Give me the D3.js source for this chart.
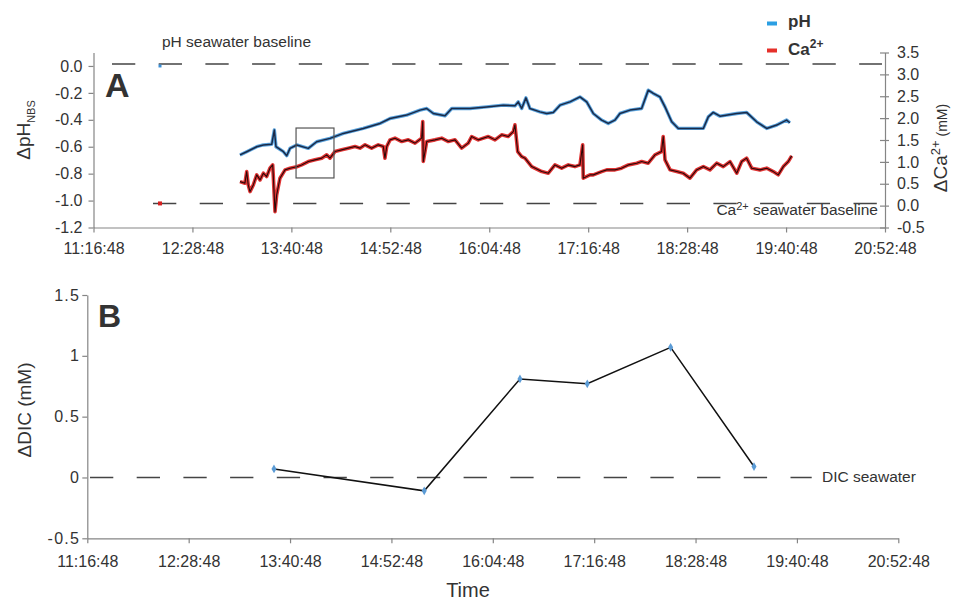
<!DOCTYPE html>
<html><head><meta charset="utf-8">
<script src="https://cdn.jsdelivr.net/npm/d3@7"></script>
<style>
body{margin:0;background:#fff;}
svg text{font-family:"Liberation Sans",Arial,Helvetica,sans-serif;fill:#333;}
</style>
</head><body>
<svg id="c" width="961" height="600"></svg>
<script>
// ---------- DATA ----------
const timeTickLabels = ["11:16:48","12:28:48","13:40:48","14:52:48","16:04:48","17:16:48","18:28:48","19:40:48","20:52:48"];
const phTickLabels = [0.0,-0.2,-0.4,-0.6,-0.8,-1.0,-1.2];
const caTickLabels = [3.5,3.0,2.5,2.0,1.5,1.0,0.5,0.0,-0.5];
const dicTickLabels = [1.5,1,0.5,0,-0.5];

const phTimes = ["13:03:24","13:08:18","13:15:36","13:20:24","13:26:30","13:28:24","13:29:36","13:35:00","13:37:24","13:39:48",
 "13:44:42","13:53:06","13:59:12","14:08:54","14:18:36","14:33:06","14:45:18","14:52:36","15:04:42","15:14:24",
 "15:19:18","15:24:06","15:32:36","15:37:30","15:50:48","16:02:54","16:15:00","16:23:30","16:25:54","16:28:24",
 "16:31:30","16:34:24","16:41:42","16:46:36","16:51:24","16:56:18","17:03:30","17:10:48","17:15:42","17:20:30",
 "17:26:36","17:31:24","17:36:18","17:39:54","17:47:12","17:55:42","18:00:30","18:04:12","18:09:00","18:12:42",
 "18:17:36","18:22:24","18:30:54","18:40:36","18:44:12","18:47:48","18:52:42","19:04:54","19:12:06","19:19:24",
 "19:26:42","19:34:00","19:41:12","19:43:36"];
const phValues = [-0.661,-0.637,-0.600,-0.587,-0.582,-0.476,-0.600,-0.637,-0.667,-0.612,
 -0.587,-0.612,-0.563,-0.538,-0.501,-0.464,-0.427,-0.390,-0.365,-0.328,
 -0.316,-0.353,-0.370,-0.316,-0.316,-0.304,-0.291,-0.296,-0.267,-0.316,
 -0.237,-0.316,-0.341,-0.353,-0.345,-0.291,-0.267,-0.230,-0.267,-0.353,
 -0.402,-0.427,-0.402,-0.353,-0.328,-0.316,-0.180,-0.204,-0.230,-0.304,
 -0.415,-0.464,-0.464,-0.464,-0.378,-0.345,-0.373,-0.353,-0.345,-0.415,
 -0.464,-0.439,-0.402,-0.422];

const caTimes = ["13:03:24","13:07:00","13:08:18","13:09:24","13:10:42","13:13:06","13:15:36","13:18:00","13:20:24","13:22:48",
 "13:25:12","13:27:12","13:27:36","13:28:54","13:30:06","13:32:30","13:36:12","13:39:48","13:44:42","13:48:18",
 "13:53:06","13:58:00","14:02:54","14:06:30","14:08:54","14:12:30","14:17:24","14:22:12","14:27:06","14:30:42",
 "14:34:24","14:39:12","14:44:00","14:47:42","14:48:54","14:50:12","14:52:36","14:56:12","15:01:06","15:05:54",
 "15:10:48","15:15:36","15:16:24","15:16:48","15:19:18","15:25:18","15:30:12","15:35:00","15:39:54","15:44:42",
 "15:49:30","15:52:00","15:56:48","16:04:06","16:09:00","16:13:48","16:18:36","16:22:18","16:23:30","16:25:30",
 "16:28:24","16:30:48","16:35:42","16:43:00","16:47:48","16:52:36","16:57:30","17:02:18","17:07:12","17:10:48",
 "17:12:48","17:13:12","17:18:06","17:20:30","17:26:36","17:30:18","17:36:18","17:41:00","17:46:00","17:52:06",
 "17:55:42","18:00:30","18:05:24","18:10:12","18:11:24","18:12:42","18:16:24","18:21:12","18:26:00","18:30:54",
 "18:35:42","18:40:36","18:45:24","18:50:18","18:55:06","19:00:00","19:04:54","19:08:30","19:12:06","19:15:48",
 "19:21:48","19:26:42","19:31:30","19:35:06","19:38:48","19:42:24","19:44:54"];
const caValues = [0.549,0.513,0.778,0.474,0.320,0.474,0.703,0.588,0.741,0.664,
 0.856,0.931,0.703,-0.137,0.245,0.627,0.817,0.856,0.890,0.931,
 1.007,1.046,1.085,1.160,1.085,1.236,1.275,1.314,1.350,1.314,
 1.389,1.314,1.389,1.350,1.085,1.350,1.503,1.542,1.465,1.503,
 1.428,1.542,1.922,1.007,1.465,1.503,1.542,1.465,1.503,1.314,
 1.428,1.579,1.503,1.579,1.503,1.618,1.579,1.693,1.847,1.236,
 1.121,1.085,0.892,0.778,0.741,0.931,0.856,0.931,0.892,0.931,
 1.389,0.627,0.703,0.703,0.778,0.817,0.817,0.856,0.931,0.970,
 1.007,0.970,1.160,1.236,1.579,1.046,0.817,0.778,0.741,0.627,
 0.817,0.892,0.817,0.970,0.892,1.007,0.741,1.007,1.085,0.856,
 0.817,0.856,0.778,0.703,0.892,1.007,1.137];

// isolated seawater baseline readings
const baselinePointTime = "12:05:12";
const phBaselinePoint = 0.0;
const caBaselinePoint = 0.05;
// dashed reference lines
const phBaselineSpan = ["11:30:15","20:50:36"], phBaselineValue = 0.015;
const caBaselineSpan = ["12:00:06","20:46:54"], caBaselineValue = 0.05;
const dicBaselineSpan = ["11:18:43","19:51:18"], dicBaselineValue = 0;
// zoom box (time, pH)
const boxTimes = ["13:44:12","14:11:48"], boxPH = [-0.461,-0.832];

const dicTimes = ["13:29:24","15:16:06","16:24:06","17:11:54","18:11:06","19:10:18"];
const dicValues = [0.07,-0.11,0.81,0.77,1.07,0.09];

// ---------- DRAW ----------
const parse = d3.timeParse("%H:%M:%S");
const fmt = d3.timeFormat("%H:%M:%S");
const svg = d3.select("#c");
const axisCol = "#858585";

const tTicks = timeTickLabels.map(parse);

// Panel A scales
const xA = d3.scaleTime().domain([tTicks[0], tTicks[tTicks.length-1]]).range([93.5, 885]);
const yL = d3.scaleLinear().domain([-1.2, 0.1]).range([227.5, 52.5]);
const yR = d3.scaleLinear().domain([-0.5, 3.5]).range([227.5, 52.5]);

// Panel B scales
const xB = d3.scaleTime().domain([tTicks[0], tTicks[tTicks.length-1]]).range([87.3, 898.3]);
const yB = d3.scaleLinear().domain([-0.5, 1.5]).range([538.3, 295]);

function styleAxis(g){
  g.selectAll("path.domain").attr("stroke", axisCol).attr("stroke-width",1.2);
  g.selectAll(".tick line").attr("stroke", axisCol).attr("stroke-width",1.2);
  g.selectAll(".tick text").attr("fill","#333").style("font-size","16px")
    .style("font-family",'"Liberation Sans",Arial,sans-serif');
}

// Axes A
svg.append("g").attr("transform","translate(0,227.5)")
  .call(d3.axisBottom(xA).tickValues(tTicks).tickFormat(fmt).tickSizeInner(5).tickSizeOuter(0).tickPadding(10))
  .call(styleAxis);
svg.append("g").attr("transform","translate(93.5,0)")
  .call(d3.axisLeft(yL).tickValues(phTickLabels).tickFormat(d=>d.toFixed(1)).tickSizeInner(5).tickSizeOuter(0).tickPadding(6))
  .call(styleAxis);
const gR = svg.append("g").attr("transform","translate(885,0)")
  .call(d3.axisRight(yR).tickValues(caTickLabels).tickFormat(d=>d.toFixed(1)).tickSizeInner(4).tickSizeOuter(0).tickPadding(8))
  .call(styleAxis);
gR.selectAll(".tick line").attr("x1",-5).attr("x2",4);

// Baselines A
function dashed(span, yScale, v){
  svg.append("line")
    .attr("x1", xA(parse(span[0]))).attr("x2", xA(parse(span[1])))
    .attr("y1", yScale(v)).attr("y2", yScale(v))
    .attr("stroke","#444").attr("stroke-width",1.4).attr("stroke-dasharray","23.3,23.4");
}
dashed(phBaselineSpan, yL, phBaselineValue);
dashed(caBaselineSpan, yR, caBaselineValue);

// Data lines A
const phData = phTimes.map((t,i)=>({t:parse(t), v:phValues[i]}));
const caData = caTimes.map((t,i)=>({t:parse(t), v:caValues[i]}));
const linePH = d3.line().x(d=>xA(d.t)).y(d=>yL(d.v));
const lineCA = d3.line().x(d=>xA(d.t)).y(d=>yR(d.v));

svg.append("path").datum(caData).attr("d",lineCA).attr("fill","none")
  .attr("stroke","#e03434").attr("stroke-width",3.6).attr("stroke-linejoin","round");
svg.append("path").datum(caData).attr("d",lineCA).attr("fill","none")
  .attr("stroke","#2a0808").attr("stroke-width",1.1).attr("stroke-linejoin","round");
svg.append("path").datum(phData).attr("d",linePH).attr("fill","none")
  .attr("stroke","#5aa3dd").attr("stroke-width",3.4).attr("stroke-linejoin","round");
svg.append("path").datum(phData).attr("d",linePH).attr("fill","none")
  .attr("stroke","#1a2a48").attr("stroke-width",1.5).attr("stroke-linejoin","round");

// isolated baseline points
const bpT = parse(baselinePointTime);
svg.append("rect").attr("x", xA(bpT)-1.5).attr("y", yL(phBaselinePoint)-1.5).attr("width",3).attr("height",3).attr("fill","#3b8fd6");
svg.append("rect").attr("x", xA(bpT)-2).attr("y", yR(caBaselinePoint)-2).attr("width",4).attr("height",4).attr("fill","#d62020");

// zoom box
svg.append("rect")
  .attr("x", xA(parse(boxTimes[0]))).attr("y", yL(boxPH[0]))
  .attr("width", xA(parse(boxTimes[1])) - xA(parse(boxTimes[0])))
  .attr("height", yL(boxPH[1]) - yL(boxPH[0]))
  .attr("fill","none").attr("stroke","#555").attr("stroke-width",1.2);

// Texts A
svg.append("text").attr("x",105).attr("y",97).text("A")
  .style("font-size","34px").style("font-weight","bold").attr("fill","#222");
svg.append("text").attr("x",162).attr("y",47).text("pH seawater baseline").style("font-size","15.5px");
const caBL = svg.append("text").attr("x",878).attr("y",215).attr("text-anchor","end").style("font-size","15.5px");
caBL.append("tspan").text("Ca");
caBL.append("tspan").text("2+").attr("dy",-5).style("font-size","11px");
caBL.append("tspan").text(" seawater baseline").attr("dy",5);

// Left axis label A
const lab1 = svg.append("text").attr("transform","translate(30,130) rotate(-90)").attr("text-anchor","middle").style("font-size","19px");
lab1.append("tspan").text("ΔpH");
lab1.append("tspan").text("NBS").attr("dy",5).style("font-size","11px");

// Right axis label A
const lab2 = svg.append("text").attr("transform","translate(947,148) rotate(-90)").attr("text-anchor","middle").style("font-size","19px");
lab2.append("tspan").text("ΔCa");
lab2.append("tspan").text("2+").attr("dy",-7).style("font-size","13px");
lab2.append("tspan").text(" (mM)").attr("dy",7).style("font-size","14px");

// Legend
svg.append("rect").attr("x",767).attr("y",21.5).attr("width",10).attr("height",4).attr("fill","#2b9fe3");
svg.append("text").attr("x",788).attr("y",27).text("pH").style("font-size","17px").style("font-weight","bold").attr("fill","#222");
svg.append("rect").attr("x",767).attr("y",48.5).attr("width",10).attr("height",4).attr("fill","#e5302a");
const lgCa = svg.append("text").attr("x",788).attr("y",55).style("font-size","17px").style("font-weight","bold").attr("fill","#222");
lgCa.append("tspan").text("Ca");
lgCa.append("tspan").text("2+").attr("dy",-7).style("font-size","12px");

// ---------- Panel B ----------
svg.append("g").attr("transform","translate(0,538.3)")
  .call(d3.axisBottom(xB).tickValues(tTicks).tickFormat(fmt).tickSizeInner(5).tickSizeOuter(0).tickPadding(12))
  .call(styleAxis);
const gBL = svg.append("g").attr("transform","translate(87.3,0)")
  .call(d3.axisLeft(yB).tickValues(dicTickLabels).tickFormat(d=>String(d)).tickSizeInner(5).tickSizeOuter(0).tickPadding(2))
  .call(styleAxis);
gBL.selectAll(".tick text").style("letter-spacing","1.3px");

svg.append("line")
  .attr("x1", xB(parse(dicBaselineSpan[0]))).attr("x2", xB(parse(dicBaselineSpan[1])))
  .attr("y1", yB(dicBaselineValue)).attr("y2", yB(dicBaselineValue))
  .attr("stroke","#444").attr("stroke-width",1.4).attr("stroke-dasharray","23.3,23.4");
svg.append("text").attr("x",822).attr("y",482).text("DIC seawater").style("font-size","15.5px");

const dicData = dicTimes.map((t,i)=>({t:parse(t), v:dicValues[i]}));
svg.append("path").datum(dicData)
  .attr("d", d3.line().x(d=>xB(d.t)).y(d=>yB(d.v)))
  .attr("fill","none").attr("stroke","#111").attr("stroke-width",1.5);
svg.selectAll("path.dicpt").data(dicData).enter().append("path").attr("class","dicpt")
  .attr("d", d3.symbol().type(d3.symbolDiamond).size(22))
  .attr("transform", d=>`translate(${xB(d.t)},${yB(d.v)})`)
  .attr("fill","#5b9bd5");

svg.append("text").attr("x",98).attr("y",327).text("B")
  .style("font-size","32px").style("font-weight","bold").attr("fill","#222");

const lab3 = svg.append("text").attr("transform","translate(31,410) rotate(-90)").attr("text-anchor","middle").style("font-size","19px");
lab3.text("ΔDIC (mM)");

svg.append("text").attr("x",468).attr("y",597).attr("text-anchor","middle").text("Time").style("font-size","20px");
</script>
</body></html>
